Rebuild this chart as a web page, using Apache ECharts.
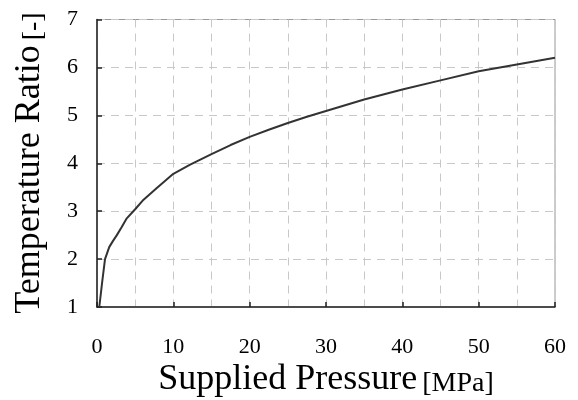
<!DOCTYPE html>
<html>
<head>
<meta charset="utf-8">
<script src="https://cdn.jsdelivr.net/npm/echarts@6/dist/echarts.min.js"></script>
<style>html,body{margin:0;padding:0;background:#fff}#c{width:578px;height:400px}</style>
</head>
<body>
<div id="c"></div>
<script>
var pressure = [0.3, 0.7, 1.05, 1.6, 2.1, 2.6, 3.2, 3.9, 5, 6.1, 7.8, 10, 12.2, 15, 17.5, 20, 22.5, 25, 27.5, 30, 35, 40, 45, 50, 55, 60];
var ratio    = [1.0, 1.55, 2.0, 2.25, 2.38, 2.5, 2.66, 2.85, 3.04, 3.24, 3.48, 3.78, 3.97, 4.19, 4.38, 4.55, 4.70, 4.84, 4.97, 5.09, 5.33, 5.54, 5.73, 5.92, 6.06, 6.20];
var xTitle = 'Supplied Pressure', xUnit = '[MPa]';
var yTitle = 'Temperature Ratio', yUnit = '[-]';

var chart = echarts.init(document.getElementById('c'), null, {renderer: 'canvas'});
var font = 'Liberation Serif';
var grid = '#c8c8c8';
var rich = {
  a: {fontFamily: font, fontSize: 36, fill: '#000', verticalAlign: 'bottom'},
  s: {fontFamily: font, fontSize: 20, fill: '#000', verticalAlign: 'bottom'},
  b: {fontFamily: font, fontSize: 28, fill: '#000', verticalAlign: 'bottom'}
};
chart.setOption({
  animation: false,
  grid: {left: 97, right: 23, top: 19.5, bottom: 93, show: true, borderColor: '#999', borderWidth: 1},
  xAxis: {
    type: 'value', min: 0, max: 60, interval: 10,
    axisLine: {show: true, onZero: false, lineStyle: {color: '#222', width: 1.5}},
    axisTick: {show: true, inside: true, length: 5, lineStyle: {color: '#222', width: 1.5}},
    minorTick: {show: false, splitNumber: 2},
    axisLabel: {margin: 29, fontFamily: font, fontSize: 22, color: '#000'},
    splitLine: {show: true, lineStyle: {color: grid, type: [8, 6], width: 1}},
    minorSplitLine: {show: true, lineStyle: {color: grid, type: [8, 6], width: 1}}
  },
  yAxis: {
    type: 'value', min: 1, max: 7, interval: 1,
    axisLine: {show: true, onZero: false, lineStyle: {color: '#222', width: 1.5}},
    axisTick: {show: true, inside: true, length: 5, lineStyle: {color: '#222', width: 1.5}},
    axisLabel: {margin: 19, fontFamily: font, fontSize: 22, color: '#000'},
    splitLine: {show: true, lineStyle: {color: grid, type: [8, 6], width: 1}}
  },
  graphic: [
    {type: 'text', x: 326, y: 380,
     style: {text: '{a|' + xTitle + '}{s| }{b|' + xUnit + '}', align: 'center', verticalAlign: 'middle', rich: rich}},
    {type: 'text', x: 30, y: 163, rotation: Math.PI / 2,
     style: {text: '{a|' + yTitle + '}{s| }{b|' + yUnit + '}', align: 'center', verticalAlign: 'middle', rich: rich}}
  ],
  series: [{
    type: 'line', data: pressure.map(function (p, i) { return [p, ratio[i]]; }),
    showSymbol: false, smooth: false, lineStyle: {color: '#333', width: 2}
  }]
});
</script>
</body>
</html>
